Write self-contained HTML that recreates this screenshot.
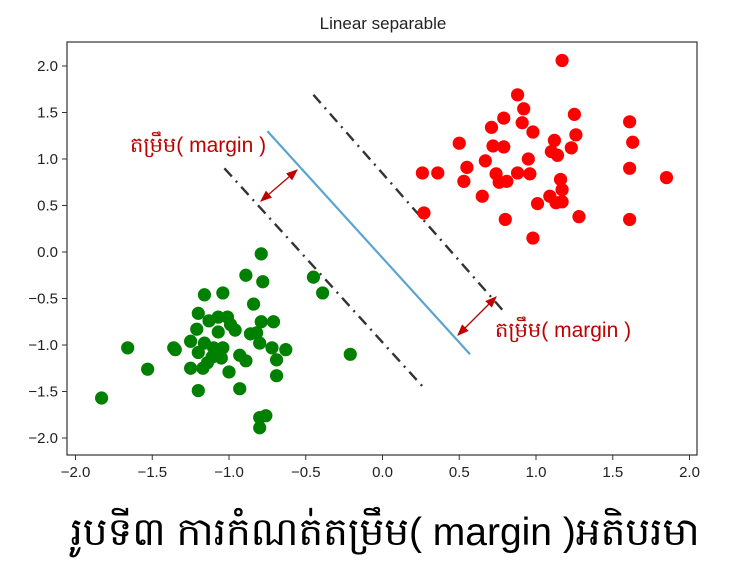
<!DOCTYPE html>
<html><head><meta charset="utf-8"><style>
body{margin:0;background:#fff;width:754px;height:583px;overflow:hidden}
svg{display:block}
text{font-family:"Liberation Sans","DejaVu Sans",sans-serif}
</style></head><body>
<svg id="chart" width="754" height="583">
<defs>
<marker id="ah" viewBox="0 0 10 10" refX="9" refY="5" markerWidth="9" markerHeight="9" orient="auto-start-reverse"><path d="M0,1 L10,5 L0,9 z" fill="#c00000"/></marker>
</defs>
<rect x="67" y="42" width="630" height="413" fill="#fff" stroke="#333" stroke-width="1.2"/>
<text x="383" y="29" text-anchor="middle" font-size="17" fill="#222">Linear separable</text>
<g id="ticks"></g><g id="lines"></g><g id="dots"></g>
<line x1="261" y1="201" x2="297" y2="170" stroke="#c00000" stroke-width="1.3" marker-start="url(#ah)" marker-end="url(#ah)"/>
<line x1="458" y1="335" x2="496" y2="297" stroke="#c00000" stroke-width="1.3" marker-start="url(#ah)" marker-end="url(#ah)"/>
<text x="130" y="152" font-size="21" fill="#c00000">តម្រឹម( margin )</text>
<text x="495" y="337" font-size="21" fill="#c00000">តម្រឹម( margin )</text>
<text x="385" y="545" text-anchor="middle" font-size="39" fill="#000">រូបទី៣ ការកំណត់តម្រឹម( margin )អតិបរមា</text>
</svg>
<script>
const xTicks=[-2.0,-1.5,-1.0,-0.5,0.0,0.5,1.0,1.5,2.0];
const yTicks=[-2.0,-1.5,-1.0,-0.5,0.0,0.5,1.0,1.5,2.0];
const redX=[1.17,0.88,0.92,1.25,0.79,0.91,1.61,0.71,0.98,1.26,0.50,1.12,1.63,0.72,0.79,1.23,1.10,1.14,0.95,0.67,0.55,1.61,0.26,0.36,0.74,0.88,0.96,1.85,0.53,0.76,0.81,1.16,1.17,1.09,0.65,1.13,1.17,1.01,0.27,0.80,1.28,1.61,0.98];
const redY=[2.06,1.69,1.54,1.48,1.44,1.39,1.40,1.34,1.29,1.26,1.17,1.20,1.18,1.14,1.13,1.12,1.08,1.04,1.00,0.98,0.91,0.90,0.85,0.85,0.84,0.85,0.84,0.80,0.76,0.75,0.76,0.78,0.67,0.60,0.60,0.53,0.54,0.52,0.42,0.35,0.38,0.35,0.15];
const greenX=[-0.79,-0.89,-0.78,-0.45,-0.39,-1.16,-1.04,-0.84,-1.20,-1.13,-1.07,-1.01,-0.99,-0.96,-0.79,-0.71,-1.21,-1.07,-0.86,-0.82,-1.25,-1.16,-0.80,-1.66,-1.36,-1.35,-1.04,-1.10,-0.72,-0.63,-0.21,-1.20,-1.11,-1.05,-0.93,-0.89,-0.69,-1.53,-1.25,-1.17,-1.14,-1.00,-0.69,-1.20,-0.93,-1.83,-0.80,-0.76,-0.80];
const greenY=[-0.02,-0.25,-0.32,-0.27,-0.44,-0.46,-0.44,-0.56,-0.66,-0.74,-0.70,-0.70,-0.78,-0.84,-0.75,-0.75,-0.83,-0.86,-0.88,-0.87,-0.96,-0.98,-0.98,-1.03,-1.03,-1.05,-1.03,-1.03,-1.03,-1.05,-1.10,-1.08,-1.13,-1.14,-1.11,-1.17,-1.16,-1.26,-1.25,-1.25,-1.19,-1.29,-1.33,-1.49,-1.47,-1.57,-1.78,-1.76,-1.89];
const hyperX=[-0.75,0.57];const hyperY=[1.30,-1.10];
const upperX=[-0.45,0.78];const upperY=[1.69,-0.62];
const lowerX=[-1.03,0.28];const lowerY=[0.90,-1.48];
const NS='http://www.w3.org/2000/svg';
const sx=v=>382.5+v*153.5, sy=v=>252-v*93;
function mk(t,a,p){const e=document.createElementNS(NS,t);for(const k in a)e.setAttribute(k,a[k]);p.appendChild(e);return e;}
const tg=document.getElementById('ticks');
xTicks.forEach(v=>{
 const l=mk('line',{x1:sx(v),x2:sx(v),y1:455,y2:460,stroke:'#333'},tg);
 
 
 const t=mk('text',{x:sx(v),y:477,'text-anchor':'middle','font-size':'15',fill:'#222'},tg);
 t.textContent=(v<0?'\u2212'+(-v).toFixed(1):v.toFixed(1));
 
 
});
yTicks.forEach(v=>{
 const l=mk('line',{x1:62,x2:67,y1:sy(v),y2:sy(v),stroke:'#333'},tg);
 
 
 const t=mk('text',{x:58,y:sy(v)+5,'text-anchor':'end','font-size':'15',fill:'#222'},tg);
 t.textContent=(v<0?'\u2212'+(-v).toFixed(1):v.toFixed(1));
 
 
});
const lg=document.getElementById('lines');
function ln(xs,ys,style,name){
 const l=mk('line',Object.assign({x1:sx(xs[0]),y1:sy(ys[0]),x2:sx(xs[1]),y2:sy(ys[1])},style),lg);
 
 
}
ln(hyperX,hyperY,{stroke:'#5aa5cf','stroke-width':2.2},'decision-boundary');
ln(upperX,upperY,{stroke:'#333','stroke-width':2.4,'stroke-dasharray':'11,6,2,6'},'upper-margin-line');
ln(lowerX,lowerY,{stroke:'#333','stroke-width':2.4,'stroke-dasharray':'11,6,2,6'},'lower-margin-line');
const dg=document.getElementById('dots');
redX.forEach((v,i)=>{
 const c=mk('circle',{cx:sx(v),cy:sy(redY[i]),r:6.6,fill:'#ff0000'},dg);
 
 
});
greenX.forEach((v,i)=>{
 const c=mk('circle',{cx:sx(v),cy:sy(greenY[i]),r:6.6,fill:'#008000'},dg);
 
 
});
</script>
</body></html>
